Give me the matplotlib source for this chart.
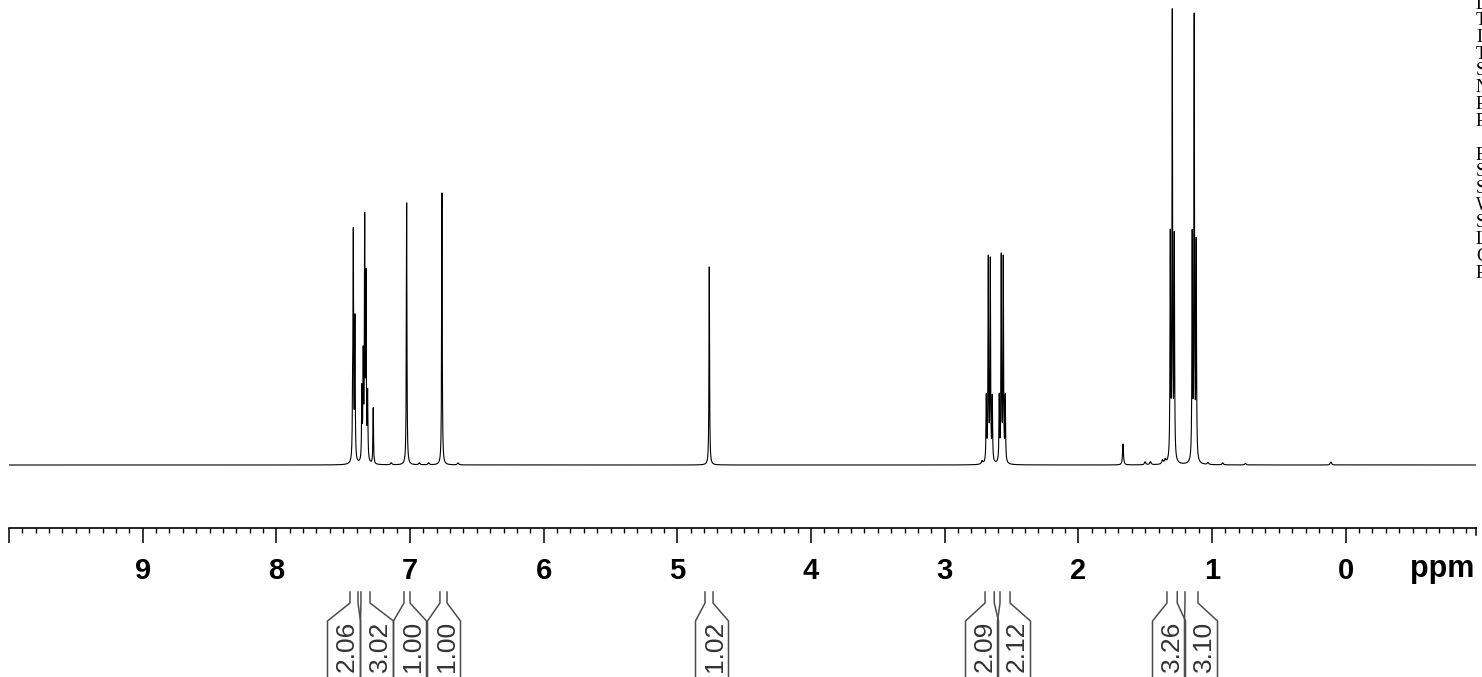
import numpy as np
import matplotlib
matplotlib.use("Agg")
import matplotlib.pyplot as plt
from matplotlib.ticker import FixedLocator, MultipleLocator

W, H = 1482, 677

# 1H lines: shift (ppm) and height above baseline
arom_shifts = [7.429, 7.424, 7.412, 7.360, 7.350, 7.339, 7.329, 7.317, 7.275, 7.025, 6.761]
arom_heights = [60, 219, 140, 70, 100, 235, 178, 65, 56, 262, 272]

single_shifts = [4.761, 1.666]
single_heights = [198, 21]
single_widths = [0.0025, 0.004]

ch2_shifts = [2.6885, 2.6735, 2.6585, 2.6435, 2.5915, 2.5765, 2.5615, 2.5465]
ch2_heights = [64, 202, 200, 63, 64, 204, 202, 64]

ch3_shifts = [1.312, 1.297, 1.282, 1.148, 1.133, 1.118]
ch3_heights = [222, 444, 220, 222, 440, 214]

# small impurity bumps near the baseline
small_shifts = [7.14, 6.93, 6.86, 6.64, 2.72, 1.50, 1.46, 1.37, 1.35, 1.03, 0.92, 0.75, 0.11]
small_heights = [2, 2, 2, 2, 3, 3, 3, 4, 4, 2, 2, 1.5, 3]

# integrals: region (ppm from, ppm to) and value
int_from = [7.449, 7.367, 7.045, 6.776, 4.793, 2.698, 2.586, 1.337, 1.202]
int_to = [7.389, 7.299, 7.000, 6.723, 4.733, 2.629, 2.511, 1.260, 1.105]
int_values = ["2.06", "3.02", "1.00", "1.00", "1.02", "2.09", "2.12", "3.26", "3.10"]

tick_values = list(range(10, -1, -1))
tick_labels = [""] + [str(v) for v in range(9, -1, -1)]

param_names = ["Date_", "Time", "INSTRUM", "TD", "SOLVENT", "NS", "PROBHD", "PULPROG",
               "", "F2 - Processing parameters", "SI", "SF", "WDW", "SSB", "LB", "GB", "PC"]

# layout (pixels)
X_LEFT, X_RIGHT = 10.0, -0.975
PX_L, PX_R = 9, 1476
label_px = [344, 377, 410, 444, 712, 982, 1014, 1169, 1201]
half_box = 16.5


def px_to_ppm(px):
    return X_LEFT + (px - PX_L) * (X_RIGHT - X_LEFT) / (PX_R - PX_L)


def lorentz(x, pos, height, hw):
    return height * hw ** 2 / ((x - pos) ** 2 + hw ** 2)


x = np.arange(-1.0, 10.0, 0.0005)
y = np.zeros_like(x)
for s, h in zip(arom_shifts + ch2_shifts + ch3_shifts, arom_heights + ch2_heights + ch3_heights):
    y += lorentz(x, s, h, 0.0025)
for s, h, w in zip(single_shifts, single_heights, single_widths):
    y += lorentz(x, s, h, w)
for s, h in zip(small_shifts, small_heights):
    y += lorentz(x, s, h, 0.006)

fig = plt.figure(figsize=(W / 100, H / 100), dpi=100)


def rect(px_left, px_top, px_w, px_h):
    return [px_left / W, 1 - (px_top + px_h) / H, px_w / W, px_h / H]


# spectrum
ax = fig.add_axes(rect(PX_L, 0, PX_R - PX_L, 480))
ax.plot(x, y, color="black", lw=0.8)
ax.set_xlim(X_LEFT, X_RIGHT)
ax.set_ylim(-15, 465)
ax.axis("off")

# ppm ruler
rax = fig.add_axes(rect(PX_L, 527, PX_R - PX_L, 1))
rax.set_xlim(X_LEFT, X_RIGHT)
rax.set_ylim(0, 1)
for side in ["top", "left", "right"]:
    rax.spines[side].set_visible(False)
rax.spines["bottom"].set_linewidth(1.2)
rax.set_yticks([])
rax.xaxis.set_major_locator(FixedLocator(tick_values))
rax.set_xticklabels(tick_labels, fontsize=21, fontweight="bold", family="Liberation Sans")
rax.xaxis.set_minor_locator(MultipleLocator(0.1))
rax.tick_params(axis="x", which="major", direction="out", length=10.8, width=1.1, pad=10)
rax.tick_params(axis="x", which="minor", direction="out", length=3.6, width=1.0)
rax.plot([X_RIGHT, X_RIGHT], [0, -7], color="black", lw=1.1, clip_on=False)
fig.text(1442 / W, 1 - 577 / H, "ppm", fontsize=22, fontweight="bold",
         family="Liberation Sans", ha="center", va="baseline")

# integrals
iax = fig.add_axes(rect(PX_L, 585, PX_R - PX_L, H - 585))
iax.set_xlim(X_LEFT, X_RIGHT)
iax.set_ylim(H, 585)
iax.axis("off")
for f, t, v, c in zip(int_from, int_to, int_values, label_px):
    bl = px_to_ppm(c - half_box)
    br = px_to_ppm(c + half_box)
    iax.plot([f, f, bl, bl], [592, 603, 621, H + 5], color="0.3", lw=1.1, clip_on=False)
    iax.plot([t, t, br, br], [592, 603, 621, H + 5], color="0.3", lw=1.1, clip_on=False)
    iax.text(px_to_ppm(c + 2.5), 621, v, rotation=90, ha="center", va="top", fontsize=19,
             family="Liberation Sans", color="0.2")

# parameter block, cut by the right edge
for i, name in enumerate(param_names):
    fig.text(1476 / W, 1 - (3.5 + 16.85 * i) / H, name, fontsize=13,
             family="Liberation Serif", ha="left", va="center")

fig.savefig("out.png", dpi=100)
